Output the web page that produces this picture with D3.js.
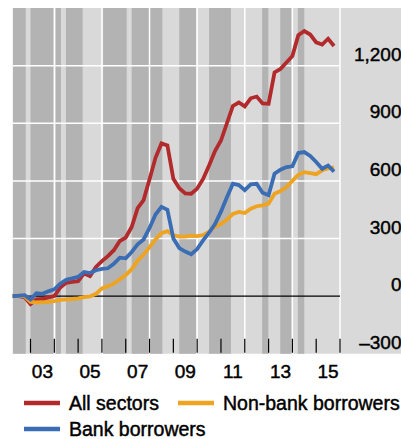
<!DOCTYPE html>
<html><head><meta charset="utf-8">
<script src="https://cdn.jsdelivr.net/npm/d3@7"></script>
<style>body{margin:0;background:#fff}svg{display:block}text{font-family:"Liberation Sans",Arial,sans-serif;fill:#000;stroke:#000;stroke-width:0.45px}</style>
</head><body><svg id="c" width="401" height="439"></svg>
<script>
// quarterly dates (decimal years)
const startYear = 2002.25;
const allSectors = [0,0,-5,-42,-17,-15,-7,0,45,69,74,78,118,104,152,182,208,239,287,305,360,458,500,608,720,795,784,611,562,535,533,560,610,680,755,810,900,990,1008,988,1030,1039,1003,1001,1165,1183,1216,1250,1358,1380,1362,1321,1310,1340,1302];
const bankBorrowers = [0,2,5,-17,15,12,25,35,65,85,92,100,126,120,135,142,145,168,200,197,230,270,295,355,425,465,450,300,250,232,218,245,290,330,375,440,515,585,578,552,582,585,538,525,637,658,672,676,745,750,730,698,663,680,648];
const nonBankBorrowers = [0,2,0,-30,-33,-32,-30,-26,-20,-17,-15,-12,-5,-2,12,40,52,65,88,110,140,185,215,255,295,328,338,318,310,310,315,312,318,335,362,375,398,428,438,433,455,468,473,482,533,547,568,600,632,645,640,635,655,665,670];
const shadedPeriods = [[2002.25,2002.8],[2003.0,2004.0],[2004.06,2004.28],[2004.49,2005.19],[2006.05,2007.04],[2007.25,2008.54],[2009.25,2009.95],[2010.5,2011.42],[2012.73,2012.99],[2013.49,2013.97],[2014.23,2014.5]];
const yTicks = [-300,0,300,600,900,1200];
const yTickLabels = ["–300","0","300","600","900","1,200"];
const xGridYears = [2004,2006,2008,2010,2012,2014,2016];
const xTickYears = [2003,2004,2005,2006,2007,2008,2009,2010,2011,2012,2013,2014,2015,2016];
const xLabelYears = [2003,2005,2007,2009,2011,2013,2015];
const xLabels = ["03","05","07","09","11","13","15"];
const series = [
  {name:"All sectors", values:allSectors, color:"#b22a2c"},
  {name:"Bank borrowers", values:bankBorrowers, color:"#3a6db4"},
  {name:"Non-bank borrowers", values:nonBankBorrowers, color:"#eea321"}
];

const svg = d3.select("#c");
const x = d3.scaleLinear().domain([2002.25,2016]).range([12.65,340]);
const y = d3.scaleLinear().domain([-300,1500]).range([353.75,8]);
const plotTop = y(1500), plotBot = y(-300);

svg.append("rect").attr("x",13).attr("y",plotTop).attr("width",401-13).attr("height",plotBot-plotTop).attr("fill","#d9d9d9");
svg.selectAll(".band").data(shadedPeriods).enter().append("rect")
  .attr("x",d=>x(d[0])).attr("width",d=>x(d[1])-x(d[0]))
  .attr("y",plotTop).attr("height",plotBot-plotTop).attr("fill","#b3b3b3");

// gridlines
svg.selectAll(".hg").data(yTicks.filter(v=>v!==0 && v!==-300)).enter().append("line")
  .attr("x1",13).attr("x2",340).attr("y1",d=>y(d)).attr("y2",d=>y(d))
  .attr("stroke","#fff").attr("stroke-width",1.5);
svg.selectAll(".vg").data(xGridYears).enter().append("line")
  .attr("x1",d=>x(d)).attr("x2",d=>x(d)).attr("y1",plotTop).attr("y2",plotBot)
  .attr("stroke","#fff").attr("stroke-width",1.5);
svg.append("line").attr("x1",12.5).attr("x2",12.5).attr("y1",plotTop).attr("y2",plotBot).attr("stroke","#f4f4f4").attr("stroke-width",1);
// zero line
svg.append("line").attr("x1",13).attr("x2",340).attr("y1",y(0)).attr("y2",y(0)).attr("stroke","#000").attr("stroke-width",1.2);
// x ticks
svg.selectAll(".xt").data(xTickYears).enter().append("line")
  .attr("x1",d=>x(d)).attr("x2",d=>x(d)).attr("y1",plotBot-15).attr("y2",plotBot-1)
  .attr("stroke","#000").attr("stroke-width",1.2);

// lines
const line = d3.line().x((d,i)=>x(startYear+i*0.25)).y(d=>y(d));
[series[0],series[2],series[1]].forEach(s=>{
  svg.append("path").datum(s.values).attr("d",line).attr("fill","none")
    .attr("stroke",s.color).attr("stroke-width",3.8).attr("stroke-linejoin","miter");
});

// y labels
svg.selectAll(".yl").data(yTicks).enter().append("text")
  .attr("x",401.5).attr("y",d=>y(d)-5).attr("text-anchor","end")
  .attr("font-size",19).text((d,i)=>yTickLabels[i]);
// x labels
svg.selectAll(".xl").data(xLabelYears).enter().append("text")
  .attr("x",d=>x(d+0.5)).attr("y",378).attr("text-anchor","middle")
  .attr("font-size",19).text((d,i)=>xLabels[i]);

// legend
const leg = [
  {s:series[0], lx:24, ly:403, ty:410},
  {s:series[2], lx:178, ly:403, ty:410},
  {s:series[1], lx:24, ly:429, ty:435.5}
];
leg.forEach(l=>{
  svg.append("line").attr("x1",l.lx).attr("x2",l.lx+36).attr("y1",l.ly).attr("y2",l.ly)
    .attr("stroke",l.s.color).attr("stroke-width",4.5);
  svg.append("text").attr("x",l.lx+45).attr("y",l.ty).attr("font-size",19.5).text(l.s.name);
});
</script></body></html>
